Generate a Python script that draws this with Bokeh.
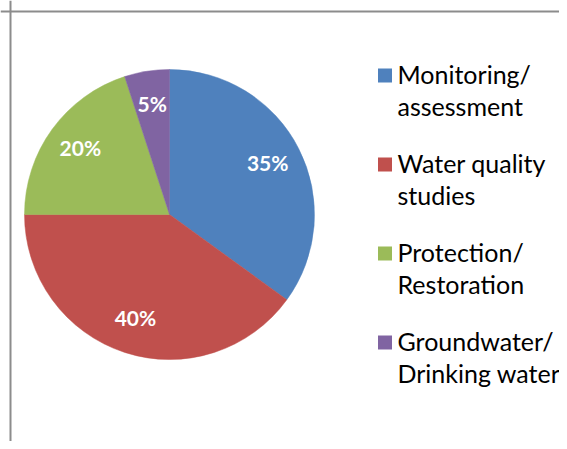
import math
from bokeh.plotting import figure
from bokeh.models import Range1d, Span, ColumnDataSource
from bokeh.core.properties import value
from bokeh.embed import file_html
from bokeh.resources import INLINE

# ---- data ----
categories = ["Monitoring/\nassessment", "Water quality\nstudies",
              "Protection/\nRestoration", "Groundwater/\nDrinking water"]
shares = [35, 40, 20, 5]
colors = ["#4F81BD", "#C0504D", "#9BBB59", "#8064A2"]

W, H = 559, 441
p = figure(width=W, height=H, x_range=Range1d(0, W), y_range=Range1d(0, H),
           output_backend="svg", toolbar_location=None, min_border=0,
           x_axis_location=None, y_axis_location=None)
p.grid.visible = False
p.outline_line_color = None
p.background_fill_color = "white"
p.border_fill_color = "white"

# chart-area frame (only left and top edges are visible in the crop)
p.add_layout(Span(location=10, dimension="height", line_color="#8c8c8c", line_width=2))
p.add_layout(Span(location=430, dimension="width", line_color="#8c8c8c", line_width=2))

# ---- pie ----
cx, cy, R = 169, 227, 145
total = float(sum(shares))
starts, ends, lx, ly, labels = [], [], [], [], []
cum = 0.0
for s in shares:
    a0 = cum / total * 2 * math.pi
    cum += s
    a1 = cum / total * 2 * math.pi
    starts.append(math.pi / 2 - a0)
    ends.append(math.pi / 2 - a1)
    mid = (a0 + a1) / 2
    lx.append(cx + 0.76 * R * math.sin(mid))
    ly.append(cy + 0.76 * R * math.cos(mid) + 2)
    labels.append(f"{s}%")

src = ColumnDataSource(dict(start=starts, end=ends, color=colors))
p.wedge(x=cx, y=cy, radius=R, start_angle="start", end_angle="end",
        direction="clock", fill_color="color", line_color="color", line_width=0.5,
        source=src)

p.text(x=lx, y=ly, text=labels, text_color="white", text_font=value("Lato"),
       text_font_size="21px", text_font_style="bold", text_align="center",
       text_baseline="middle")

# ---- legend ----
sq_x, sq_y0, step = 384.5, 366, 89
txt_x, base0, line_gap = 397, 368, 32
sq_ys = [sq_y0 - i * step for i in range(len(categories))]
p.rect(x=[sq_x] * len(categories), y=sq_ys, width=14, height=14,
       fill_color=colors, line_color=None)
tx, ty, tt = [], [], []
for i, c in enumerate(categories):
    for j, line in enumerate(c.split("\n")):
        tx.append(txt_x)
        ty.append(base0 - i * step - j * line_gap)
        tt.append(line)
p.text(x=tx, y=ty, text=tt, text_color="black", text_font=value("Lato"),
       text_font_size="25px", text_align="left", text_baseline="alphabetic")

open("out.html", "w").write(file_html(p, INLINE))
